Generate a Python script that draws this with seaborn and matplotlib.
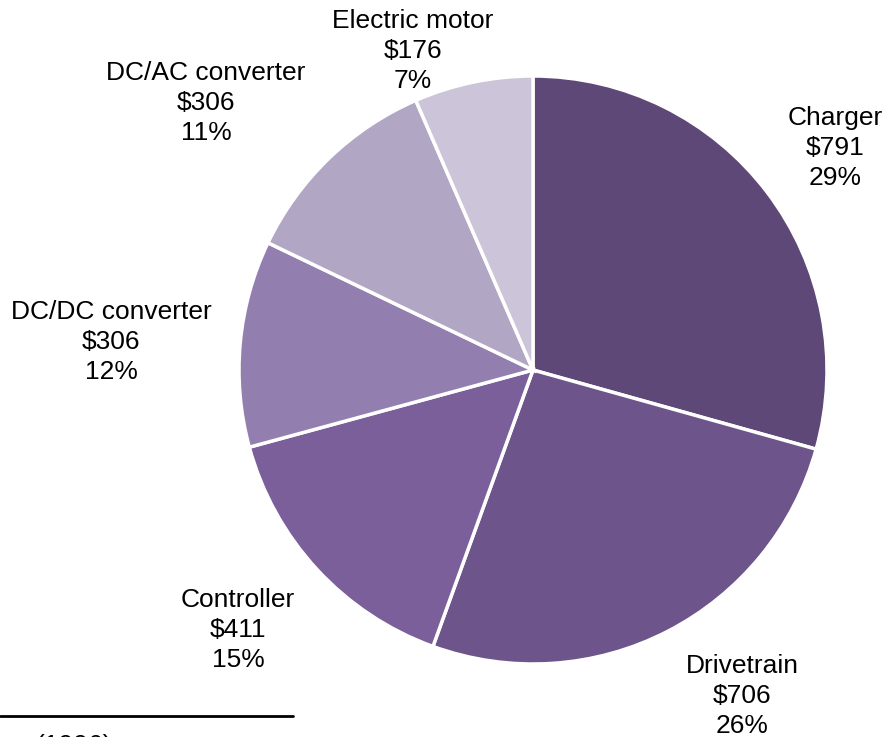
import matplotlib
matplotlib.use("Agg")
import matplotlib.pyplot as plt
import seaborn as sns

# Component cost breakdown
components = ["Charger", "Drivetrain", "Controller", "DC/DC converter", "DC/AC converter", "Electric motor"]
costs = [791, 706, 411, 306, 306, 176]
shares = ["29%", "26%", "15%", "12%", "11%", "7%"]
colors = ["#5D4877", "#6D548B", "#7B5F9A", "#937FAF", "#B2A6C5", "#CCC4D8"]

sns.set_theme(style="white")
plt.rcParams["font.family"] = ["Liberation Sans", "DejaVu Sans"]

W, H = 887, 737
fig = plt.figure(figsize=(W / 100, H / 100), dpi=100)

cx, cy, r = 533, 370, 294
ax = fig.add_axes([(cx - r) / W, (H - cy - r) / H, 2 * r / W, 2 * r / H])
ax.pie(costs, colors=colors, startangle=90, counterclock=False, radius=1,
       wedgeprops=dict(edgecolor="white", linewidth=2.5))
ax.set_xlim(-1, 1)
ax.set_ylim(-1, 1)
ax.set_aspect("equal")
ax.axis("off")

# label anchor points (pixel centres of the middle line)
label_pos = {
    "Charger": (835, 148),
    "Drivetrain": (742, 696),
    "Controller": (238, 630),
    "DC/DC converter": (111, 342),
    "DC/AC converter": (206, 103),
    "Electric motor": (413, 51),
}
for name, cost, share in zip(components, costs, shares):
    px, py = label_pos[name]
    fig.text(px / W, 1 - py / H, f"{name}\n${cost}\n{share}", ha="center", va="center",
             fontsize=19, linespacing=1.33, color="black")

# source rule and note at bottom left
fig.add_artist(plt.Line2D([0, 293 / W], [1 - 716 / H, 1 - 716 / H], color="black", linewidth=2))
fig.text(35 / W, 1 - 753 / H, "(1996)", ha="left", va="baseline", fontsize=19, color="black")

fig.savefig("out.png", dpi=100)
